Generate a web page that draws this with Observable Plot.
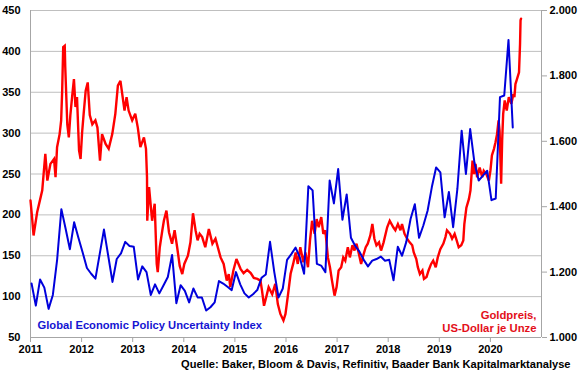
<!DOCTYPE html>
<html><head><meta charset="utf-8">
<script src="https://cdn.jsdelivr.net/npm/d3@7"></script>
<script src="https://cdn.jsdelivr.net/npm/@observablehq/plot@0.6"></script>
<style>body{margin:0;background:#fff;} #chart{width:580px;height:375px;}</style>
</head><body><div id="chart"></div>
<script>
// ---- data ----
const years = [2011, 2012, 2013, 2014, 2015, 2016, 2017, 2018, 2019, 2020];
const leftTicks = [50, 100, 150, 200, 250, 300, 350, 400, 450];
const goldTicks = [1000, 1200, 1400, 1600, 1800, 2000];

// Global Economic Policy Uncertainty Index, monthly from Jan 2011 to Jun 2020
const gepu = [
  116, 89, 121, 111, 85, 102, 145, 207, 183, 158, 191, 172,
  154, 135, 128, 122, 152, 182, 150, 118, 146, 153, 167, 162,
  161, 121, 137, 130, 102, 115, 104, 114, 124, 151, 92, 114,
  107, 93, 110, 99, 99, 83, 87, 93, 119, 116, 112, 108,
  130, 115, 104, 99, 103, 108, 123, 127, 167, 130, 99, 110,
  145, 152, 160, 148, 128, 235, 230, 140, 138, 130, 242, 214,
  256, 194, 225, 172, 162, 155, 145, 137, 144, 146, 149, 144,
  145, 120, 161, 150, 167, 195, 213, 172, 187, 205, 234, 258,
  252, 197, 228, 185, 232, 303, 250, 305, 264, 242, 248, 254,
  218, 220, 344, 346, 414, 307
];

// Gold price, USD per ounce (date as decimal year)
const goldYears = [
  2011.00, 2011.03, 2011.06, 2011.13, 2011.20, 2011.23, 2011.29, 2011.33, 2011.39, 2011.46,
  2011.49, 2011.52, 2011.57, 2011.60, 2011.62, 2011.64, 2011.67, 2011.68, 2011.72, 2011.75,
  2011.78, 2011.82, 2011.85, 2011.88, 2011.91, 2011.95, 2011.98, 2012.01, 2012.04, 2012.08,
  2012.12, 2012.16, 2012.21, 2012.27, 2012.31, 2012.36, 2012.40, 2012.47, 2012.53, 2012.60,
  2012.66, 2012.71, 2012.76, 2012.84, 2012.88, 2012.92, 2012.99, 2013.05, 2013.10, 2013.15,
  2013.22, 2013.26, 2013.28, 2013.285, 2013.32, 2013.38, 2013.43, 2013.47, 2013.49, 2013.53,
  2013.58, 2013.61, 2013.66, 2013.71, 2013.77, 2013.82, 2013.87, 2013.92, 2013.97, 2014.01,
  2014.08, 2014.13, 2014.18, 2014.23, 2014.27, 2014.31, 2014.36, 2014.42, 2014.49, 2014.56,
  2014.62, 2014.72, 2014.78, 2014.84, 2014.88, 2014.91, 2014.97, 2015.03, 2015.11, 2015.17,
  2015.24, 2015.31, 2015.37, 2015.44, 2015.50, 2015.53, 2015.57, 2015.62, 2015.66, 2015.73,
  2015.79, 2015.84, 2015.89, 2015.95, 2015.99, 2016.04, 2016.09, 2016.14, 2016.19, 2016.23,
  2016.28, 2016.34, 2016.38, 2016.43, 2016.47, 2016.51, 2016.56, 2016.60, 2016.64, 2016.69,
  2016.73, 2016.77, 2016.82, 2016.86, 2016.90, 2016.95, 2016.99, 2017.03, 2017.08, 2017.12,
  2017.16, 2017.21, 2017.25, 2017.30, 2017.34, 2017.38, 2017.42, 2017.47, 2017.51, 2017.56,
  2017.60, 2017.65, 2017.69, 2017.73, 2017.77, 2017.82, 2017.86, 2017.91, 2017.98, 2018.03,
  2018.10, 2018.14, 2018.19, 2018.24, 2018.27, 2018.32, 2018.37, 2018.42, 2018.47, 2018.50,
  2018.55, 2018.58, 2018.62, 2018.67, 2018.70, 2018.75, 2018.79, 2018.84, 2018.88, 2018.93,
  2018.97, 2019.02, 2019.08, 2019.12, 2019.15, 2019.21, 2019.25, 2019.30, 2019.34, 2019.38,
  2019.43, 2019.47, 2019.49, 2019.53, 2019.58, 2019.61, 2019.65, 2019.68, 2019.71, 2019.74,
  2019.79, 2019.84, 2019.87, 2019.92, 2019.97, 2020.00, 2020.03, 2020.07, 2020.10, 2020.13,
  2020.16, 2020.18, 2020.21, 2020.23, 2020.25, 2020.28, 2020.32, 2020.36, 2020.41, 2020.45,
  2020.47, 2020.49, 2020.52, 2020.56, 2020.58, 2020.59, 2020.60
];
const goldPrice = [
  1419, 1368, 1312, 1383, 1430, 1450, 1562, 1480, 1531, 1546,
  1490, 1582, 1622, 1664, 1755, 1888, 1892, 1827, 1652, 1612,
  1680, 1745, 1790, 1705, 1735, 1572, 1546, 1627, 1684, 1755,
  1780, 1680, 1652, 1664, 1642, 1541, 1622, 1592, 1577, 1622,
  1684, 1770, 1785, 1694, 1735, 1694, 1664, 1684, 1642, 1582,
  1612, 1577, 1490, 1357, 1460, 1357, 1409, 1225, 1200, 1276,
  1328, 1357, 1388, 1322, 1287, 1328, 1276, 1219, 1194, 1225,
  1250, 1291, 1380, 1328, 1297, 1317, 1307, 1276, 1332, 1287,
  1302, 1245, 1225, 1174, 1194, 1154, 1205, 1240, 1210, 1197,
  1207, 1197, 1182, 1179, 1174, 1144, 1097, 1128, 1154, 1132,
  1164, 1102, 1072, 1052, 1072, 1132, 1195, 1225, 1260, 1225,
  1276, 1230, 1260, 1215, 1297, 1357, 1317, 1362, 1337, 1368,
  1317, 1328, 1245, 1215, 1174, 1128, 1154, 1205, 1215, 1245,
  1235, 1276, 1245, 1282, 1266, 1287, 1260, 1225, 1250, 1276,
  1287, 1312, 1347, 1302, 1282, 1291, 1266, 1291, 1337, 1357,
  1337, 1328, 1347, 1328, 1347, 1317, 1302, 1291, 1282, 1260,
  1240, 1215, 1194, 1205, 1179, 1185, 1205, 1225, 1235, 1215,
  1245, 1270, 1287, 1307, 1328, 1317, 1302, 1317, 1297, 1276,
  1282, 1297, 1347, 1397, 1424, 1450, 1541, 1500, 1531, 1490,
  1520, 1490, 1510, 1500, 1480, 1510, 1557, 1577, 1597, 1622,
  1664, 1632, 1470, 1602, 1684, 1725, 1694, 1735, 1715, 1745,
  1735, 1775, 1790, 1811, 1897, 1970, 1975
];

const gepuLabel = "Global Economic Policy Uncertainty Index";
const goldLabel = "Goldpreis,\nUS-Dollar je Unze";
const sourceLabel = "Quelle: Baker, Bloom & Davis, Refinitiv, Baader Bank Kapitalmarktanalyse";

// ---- build ----
const toLeft = g => 50 + (g - 1000) / 2.5;       // gold -> left-axis units
const fromLeft = v => 1000 + (v - 50) * 2.5;
const de = d3.formatLocale({decimal: ",", thousands: ".", grouping: [3], currency: ["", "€"]}).format(",d");

const gepuData = gepu.map((v, i) => ({t: 2011 + (i + 0.25) / 12, v}));
const goldData = goldYears.map((t, i) => ({t, g: goldPrice[i]}));

const blue = "#0000dc";
const red = "#ff0000";
const axisGray = "#a6a6a6";
const font = "'Liberation Sans', Arial, sans-serif";

const chart = Plot.plot({
  width: 580, height: 375,
  marginLeft: 30, marginRight: 39, marginTop: 10, marginBottom: 38,
  style: {fontFamily: font, fontSize: "11px", fontWeight: "bold", color: "#000", background: "#fff"},
  x: {domain: [2011, 2021]},
  y: {domain: [50, 450]},
  marks: [
    Plot.ruleY(leftTicks, {stroke: "#bfbfbf", strokeWidth: 1}),
    Plot.ruleX([2011], {stroke: axisGray}),
    Plot.ruleX([2021], {stroke: axisGray}),
    Plot.ruleY([50], {stroke: axisGray}),
    Plot.axisY({ticks: leftTicks, tickSize: 0, tickPadding: 10, tickFormat: d => String(d), label: null, fill: "#000"}),
    Plot.axisY({anchor: "right", ticks: goldTicks.map(toLeft), tickFormat: d => de(Math.round(fromLeft(d))),
      tickSize: 5, tickPadding: 3, label: null, stroke: axisGray, fill: "#000"}),
    Plot.axisX({ticks: years, tickFormat: d => String(d), tickSize: 5, tickPadding: 3, label: null, stroke: axisGray, fill: "#000"}),
    Plot.line(goldData, {x: "t", y: d => toLeft(d.g), stroke: red, strokeWidth: 2.4, strokeLinejoin: "miter", strokeMiterlimit: 3}),
    Plot.line(gepuData, {x: "t", y: "v", stroke: blue, strokeWidth: 2}),
    Plot.text([gepuLabel], {text: d => d, frameAnchor: "bottom-left", dx: 7, dy: -12, textAnchor: "start",
      lineAnchor: "middle", fill: "#1414d2", fontSize: 11.2, fontWeight: "bold"}),
    Plot.text([goldLabel], {text: d => d, frameAnchor: "bottom-right", dx: -5, dy: -16, textAnchor: "end",
      lineAnchor: "middle", lineHeight: 1.1, fill: "#e3101a", fontSize: 11.3, fontWeight: "bold"}),
    Plot.text([sourceLabel], {text: d => d, frameAnchor: "bottom-right", dx: 29, dy: 27, textAnchor: "end",
      lineAnchor: "middle", fill: "#000", fontSize: 11.1, fontWeight: "bold"})
  ]
});
document.getElementById("chart").appendChild(chart);
</script>
</body></html>
